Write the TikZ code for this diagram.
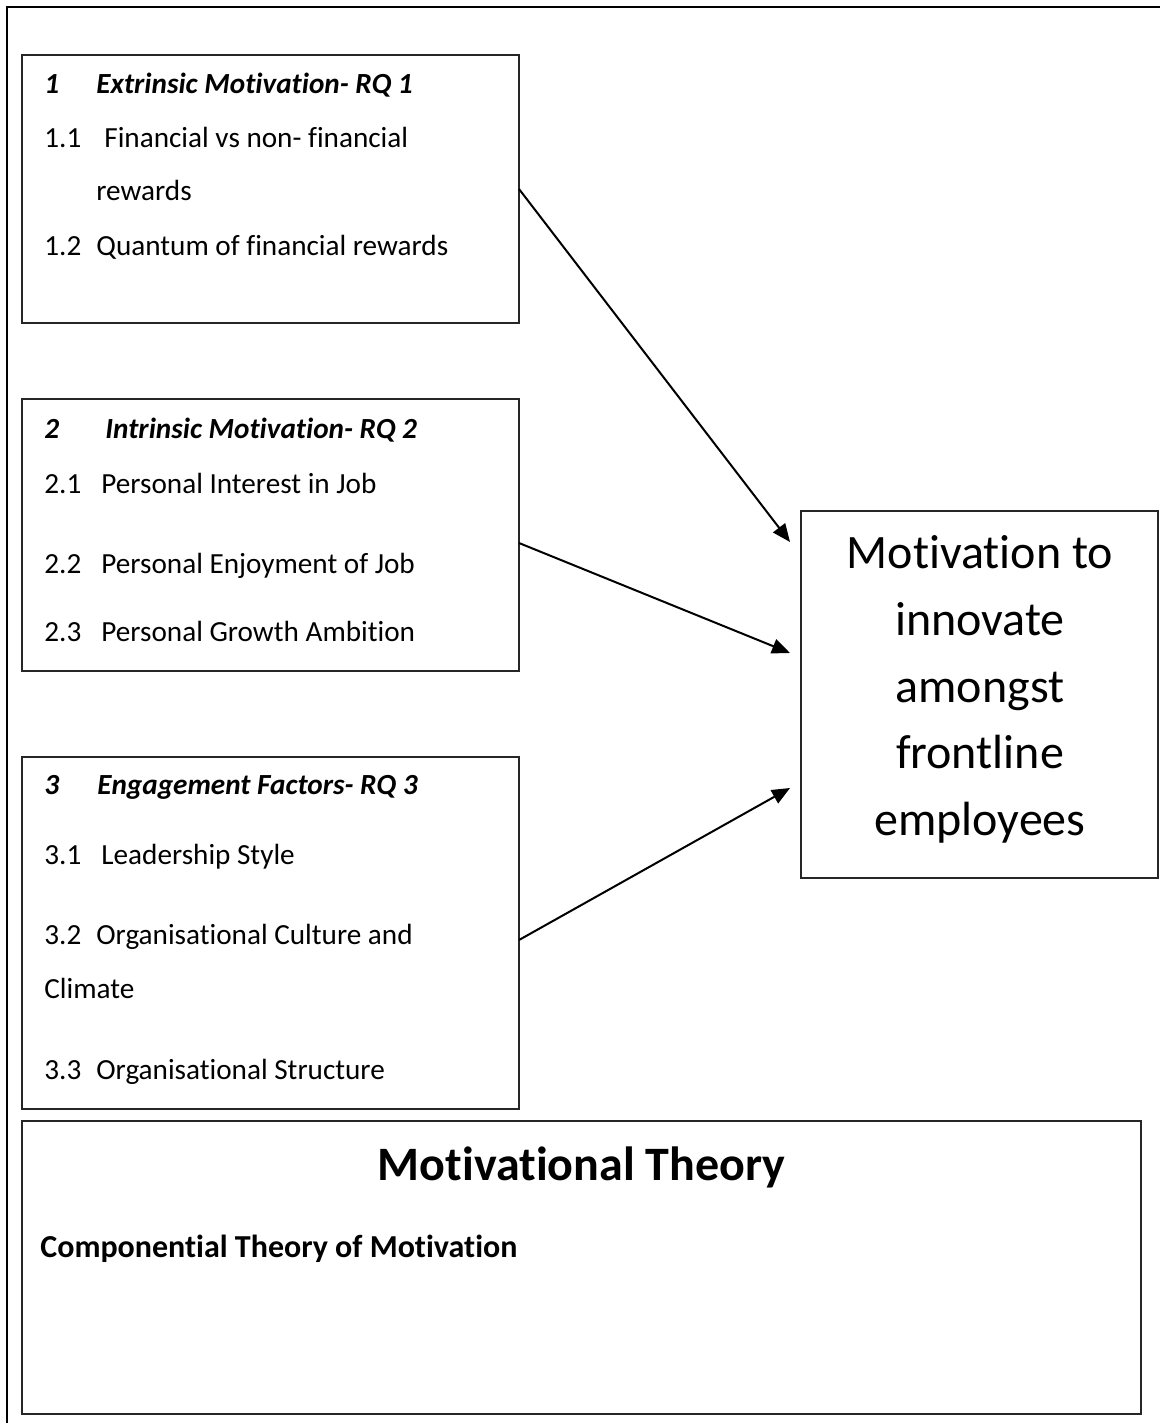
\documentclass[tikz,border=0pt]{standalone}
\usepackage{fontspec}
\setmainfont{Carlito}[Ligatures=NoCommon]
\usetikzlibrary{arrows.meta}
\begin{document}
\begin{tikzpicture}[x=0.5pt,y=-0.5pt,
  box/.style={draw=black!85, line width=0.8pt, inner sep=0pt, outer sep=0pt},
  txt/.style={anchor=base west, inner sep=0pt, font=\fontsize{14.6}{17}\selectfont},
  hdr/.style={txt, font=\fontsize{14.6}{17}\selectfont\bfseries\itshape},
  big/.style={anchor=base, inner sep=0pt, font=\fontsize{24}{28}\selectfont},
  arr/.style={line width=1pt, -{Triangle[length=9pt,width=7.5pt]}}
]
\useasboundingbox (0,0) rectangle (1160,1423);
\clip (0,0) rectangle (1160,1423);
% outer frame
\draw[line width=1.4pt] (7,7) rectangle (1180,1440);

% boxes
\node[box, minimum width=248.5pt, minimum height=134pt] (b1) at (270.5,189) {};
\node[box, minimum width=248.5pt, minimum height=136pt] (b2) at (270.5,535) {};
\node[box, minimum width=248.5pt, minimum height=176pt] (b3) at (270.5,933) {};
\node[box, minimum width=178.5pt, minimum height=183.5pt] (goal) at (979.5,694.5) {};
\node[box, line width=1.1pt, minimum width=559.5pt, minimum height=146.5pt] (theory) at (581.5,1267.5) {};

% box 1 text
\node[hdr] (h1n) at (44,94) {1};
\node[hdr] (h1) at (96,94) {Extrinsic Motivation- RQ 1};
\node[txt] (i11n) at (44,148) {1.1};
\node[txt] (i11) at (104,148) {Financial vs non- financial};
\node[txt] (i11b) at (96,201) {rewards};
\node[txt] (i12n) at (44,256) {1.2};
\node[txt] (i12) at (96,256) {Quantum of financial rewards};

% box 2 text
\node[hdr] (h2n) at (44,438) {2};
\node[hdr] (h2) at (105,438) {Intrinsic Motivation- RQ 2};
\node[txt] (i21n) at (44,493) {2.1};
\node[txt] (i21) at (101,493) {Personal Interest in Job};
\node[txt] (i22n) at (44,573) {2.2};
\node[txt] (i22) at (101,573) {Personal Enjoyment of Job};
\node[txt] (i23n) at (44,641) {2.3};
\node[txt] (i23) at (101,641) {Personal Growth Ambition};

% box 3 text
\node[hdr] (h3n) at (44,794) {3};
\node[hdr] (h3) at (97,794) {Engagement Factors- RQ 3};
\node[txt] (i31n) at (44,864) {3.1};
\node[txt] (i31) at (101,864) {Leadership Style};
\node[txt] (i32n) at (44,944) {3.2};
\node[txt] (i32) at (96,944) {Organisational Culture and};
\node[txt] (i32b) at (44,998) {Climate};
\node[txt] (i33n) at (44,1079) {3.3};
\node[txt] (i33) at (96,1079) {Organisational Structure};

% goal text
\node[big] (g1) at (980,568) {Motivation to};
\node[big] (g2) at (980,635) {innovate};
\node[big] (g3) at (980,702) {amongst};
\node[big] (g4) at (980,768) {frontline};
\node[big] (g5) at (980,835) {employees};

% theory text
\node[anchor=base, inner sep=0pt, font=\fontsize{24}{28}\selectfont\bfseries] (tt) at (581.5,1180) {Motivational Theory};
\node[anchor=base west, inner sep=0pt, font=\fontsize{16}{19}\selectfont\bfseries] (ct) at (40,1257) {Componential Theory of Motivation};

% arrows
\coordinate (t1) at (790,542);
\coordinate (t2) at (790,653);
\coordinate (t3) at (790,788);
\coordinate (s2) at (519,543);
\coordinate (s3) at (519,940);
\draw[arr] (b1.east) -- (t1);
\draw[arr] (s2) -- (t2);
\draw[arr] (s3) -- (t3);
\end{tikzpicture}
\end{document}
